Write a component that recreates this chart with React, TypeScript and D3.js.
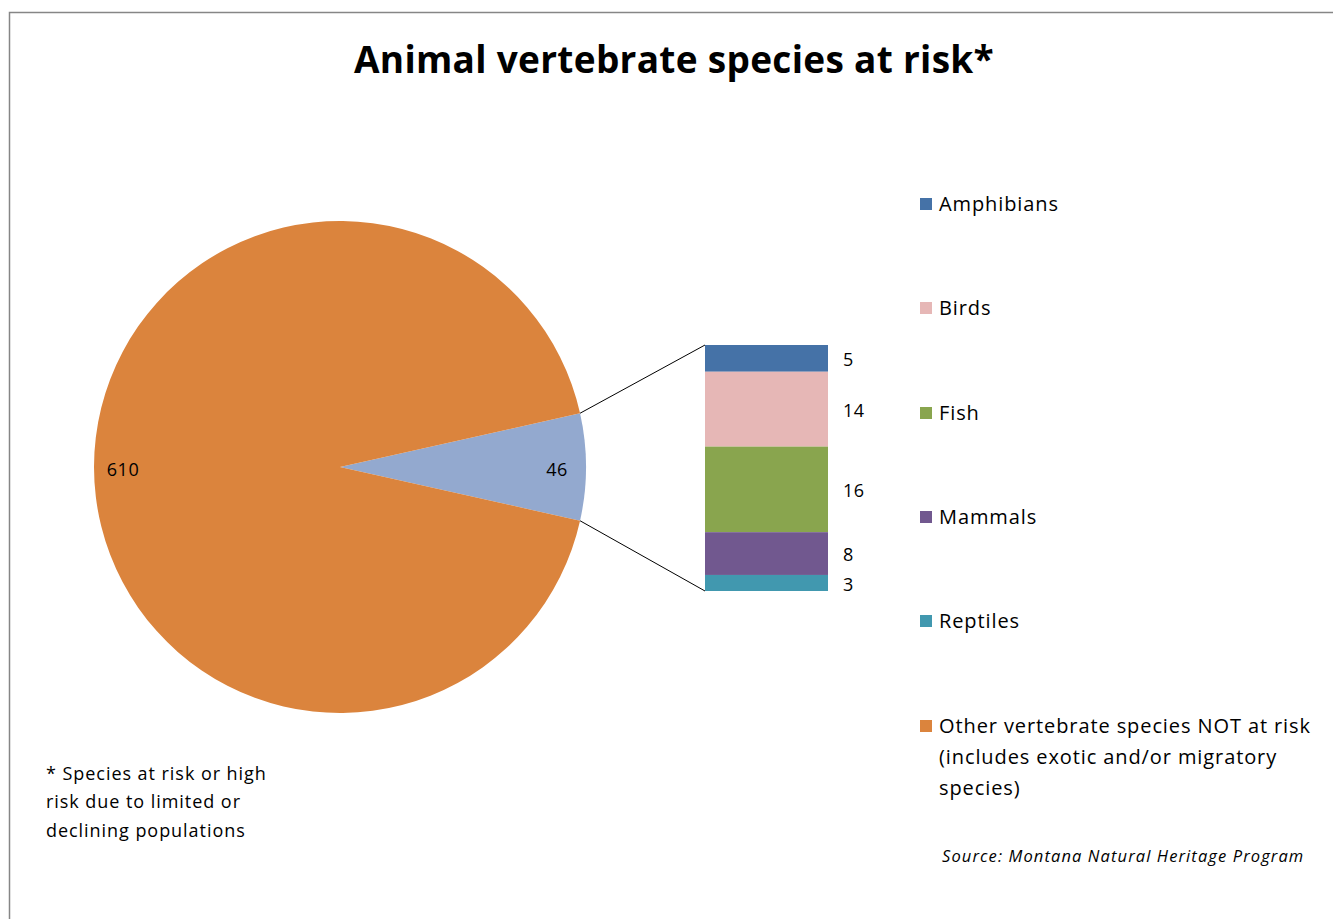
import React from "react";
import * as d3 from "d3";

const pieLabels = ["At risk", "Other vertebrate species NOT at risk"];
const pieValues = [46, 610];
const pieColors = ["#93A9CF", "#DB843D"];

const groups = ["Amphibians", "Birds", "Fish", "Mammals", "Reptiles"];
const groupValues = [5, 14, 16, 8, 3];
const groupColors = ["#4572A7", "#E6B7B6", "#89A54E", "#71588F", "#4198AF"];

const legendLabels = [
  ["Amphibians"],
  ["Birds"],
  ["Fish"],
  ["Mammals"],
  ["Reptiles"],
  ["Other vertebrate species NOT at risk", "(includes exotic and/or migratory", "species)"],
];
const legendColors = [...groupColors, "#DB843D"];

const footnote = ["* Species at risk or high", "risk due to limited or", "declining populations"];
const title = "Animal vertebrate species at risk*";
const source = "Source: Montana Natural Heritage Program";

const W = 1333;
const H = 919;
const FONT = "'Open Sans', Lato, sans-serif";

export default function App() {
  const cx = 340;
  const cy = 467;
  const r = 246;
  const total = d3.sum(pieValues);
  const theta = (2 * Math.PI * pieValues[0]) / total;
  const start = Math.PI / 2 - theta / 2;
  const arcs = d3
    .pie<number>()
    .sort(null)
    .startAngle(start)
    .endAngle(start + 2 * Math.PI)(pieValues);
  const arcGen = d3.arc<d3.PieArcDatum<number>>().innerRadius(0).outerRadius(r);

  // bar
  const barX = 705;
  const barW = 123;
  const y = d3.scaleLinear().domain([0, d3.sum(groupValues)]).range([345, 591]);
  const cum = d3.cumsum(groupValues);
  const segs = groupValues.map((v, i) => ({
    v,
    y0: y(cum[i] - v),
    y1: y(cum[i]),
    color: groupColors[i],
  }));

  const a0 = arcs[0].startAngle;
  const a1 = arcs[0].endAngle;
  const p0 = [cx + r * Math.sin(a0), cy - r * Math.cos(a0)];
  const p1 = [cx + r * Math.sin(a1), cy - r * Math.cos(a1)];

  const legendY = [204, 308, 413, 517, 621, 726];

  return (
    <div style={{ position: "absolute", left: 0, top: 0 }}>
      <svg width={W} height={H} style={{ display: "block", background: "#fff" }}>
        <rect x={9.5} y={12.5} width={W + 10} height={H + 10} fill="#fff" stroke="#868686" strokeWidth={1.5} />
        <text x={674} y={63} textAnchor="middle" dominantBaseline="middle" fontFamily={FONT} fontWeight={700} fontSize={37} letterSpacing={0.3} fill="#000">
          {title}
        </text>
        <g transform={`translate(${cx},${cy})`}>
          {arcs.map((a, i) => (
            <path key={i} d={arcGen(a) || ""} fill={pieColors[i]} />
          ))}
        </g>
        <text x={557} y={471} textAnchor="middle" dominantBaseline="middle" fontFamily={FONT} fontSize={18} letterSpacing={0.5} fill="#000">
          {pieValues[0]}
        </text>
        <text x={123} y={471} textAnchor="middle" dominantBaseline="middle" fontFamily={FONT} fontSize={18} letterSpacing={0.5} fill="#000">
          {pieValues[1]}
        </text>
        <line x1={p0[0]} y1={p0[1]} x2={barX} y2={y(0)} stroke="#000" strokeWidth={1} />
        <line x1={p1[0]} y1={p1[1]} x2={barX} y2={y(d3.sum(groupValues))} stroke="#000" strokeWidth={1} />
        {segs.map((s, i) => (
          <g key={i}>
            <rect x={barX} y={s.y0} width={barW} height={s.y1 - s.y0} fill={s.color} />
            <text x={843} y={(s.y0 + s.y1) / 2 + 3} dominantBaseline="middle" fontFamily={FONT} fontSize={18} letterSpacing={0.5} fill="#000">
              {s.v}
            </text>
          </g>
        ))}
        {legendLabels.map((lines, i) => (
          <g key={i}>
            <rect x={920} y={legendY[i] - 6} width={12} height={12} fill={legendColors[i]} />
            {lines.map((t, j) => (
              <text key={j} x={939} y={legendY[i] + j * 31 + 2} dominantBaseline="middle" fontFamily={FONT} fontSize={20} letterSpacing={0.9} fill="#000">
                {t}
              </text>
            ))}
          </g>
        ))}
        {footnote.map((t, j) => (
          <text key={j} x={46} y={775 + j * 28.5} dominantBaseline="middle" fontFamily={FONT} fontSize={18} letterSpacing={0.95} fill="#000">
            {t}
          </text>
        ))}
        <text x={942} y={858} dominantBaseline="middle" fontFamily={FONT} fontStyle="italic" fontSize={16.5} letterSpacing={1.1} fill="#000">
          {source}
        </text>
      </svg>
    </div>
  );
}
